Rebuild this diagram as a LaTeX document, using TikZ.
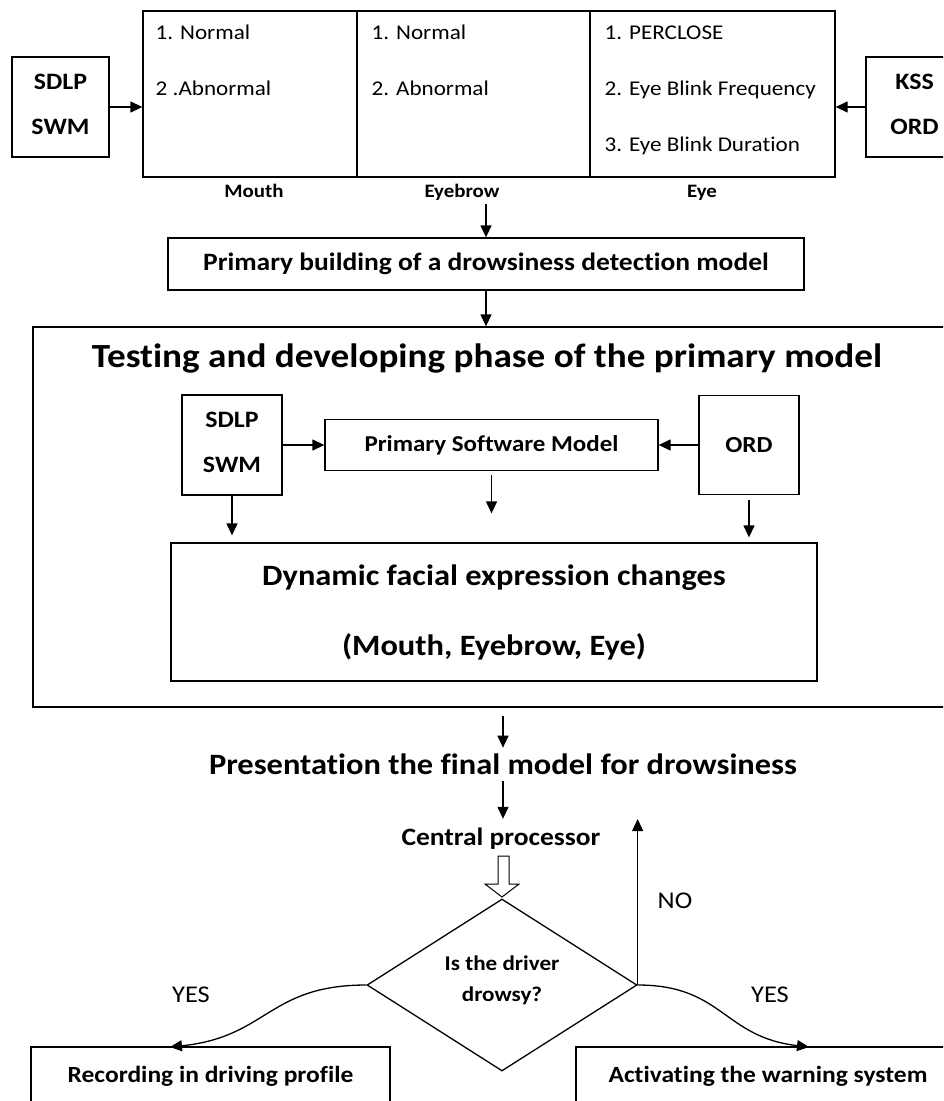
\documentclass[tikz,border=0pt]{standalone}
\usepackage{fontspec}
\setmainfont{Carlito}[FakeStretch=1.1, Ligatures=NoCommon]
\usetikzlibrary{arrows.meta,shapes.geometric}

\newcommand{\fs}[1]{\fontsize{#1}{#1}\selectfont}
\def\lw{1.3pt}

\begin{document}
\begin{tikzpicture}[x=1pt, y=-1pt, line width=\lw,
  >={Triangle[length=12pt,width=11pt]},
  box/.style={draw, inner sep=0pt, align=center},
  twoline/.style={box, minimum width=#1, minimum height=100, text depth=6pt, font=\bfseries\fontsize{23.5}{45}\selectfont},
  word/.style={inner sep=0pt, anchor=base},
  item/.style={inner sep=0pt, anchor=base west, font=\fs{21}}]
\clip (0,0) rectangle (943,1101);
% Inputs on both sides
\node[twoline=97] (inL) at (60.5,107) {SDLP\\SWM};
\node[twoline=97] (inR) at (914.5,107) {KSS\\ORD};
% Table of facial features
\node[box, minimum width=214, minimum height=166] (mouth) at (250,94) {};
\node[box, minimum width=233, minimum height=166] (brow) at (473.5,94) {};
\node[box, minimum width=245, minimum height=166] (eye) at (712.5,94) {};
\foreach \t [count=\i] in {1. Normal, 2 .Abnormal}
  \node[item] (m\i) at (155,{39+56*(\i-1)}) {\t};
\foreach \t [count=\i] in {1. Normal, 2. Abnormal}
  \node[item] (b\i) at (371,{39+56*(\i-1)}) {\t};
\foreach \t [count=\i] in {1. PERCLOSE, 2. Eye Blink Frequency, 3. Eye Blink Duration}
  \node[item] (e\i) at (604,{39+56*(\i-1)}) {\t};
% Column labels
\node[word, font=\bfseries\fs{19}] (lmouth) at (254,197) {Mouth};
\node[word, font=\bfseries\fs{19}] (lbrow) at (462,197) {Eyebrow};
\node[word, font=\bfseries\fs{19}] (leye) at (702,197) {Eye};
\draw[->] (inL.east) -- (inL.east -| mouth.west);
\draw[->] (inR.west) -- (inR.west -| eye.east);
% Primary model
\coordinate (a1) at (486,204);
\node[box, minimum width=636, minimum height=52, font=\bfseries\fs{25}] (build) at (486,264) {Primary building of a drowsiness detection model};
\draw[->] (a1) -- (build.north);
% Testing phase
\node[box, minimum width=922, minimum height=380] (test) at (494,517) {};
\draw[->] (build.south) -- (build.south |- test.north);
\node[word, font=\bfseries\fs{33.8}] (ttl) at (487,367) {Testing and developing phase of the primary model};
\node[twoline=100] (sd2) at (232,445) {SDLP\\SWM};
\node[box, minimum width=333, minimum height=51, font=\bfseries\fs{22.7}] (psm) at (491.5,445) {Primary Software Model};
\node[box, minimum width=100, minimum height=99, font=\bfseries\fs{23}] (ord) at (749,445) {ORD};
\draw[->] (sd2) -- (psm);
\draw[->] (ord) -- (psm);
\node[box, minimum width=646, minimum height=138, font=\bfseries\fontsize{29.5}{70}\selectfont] (dyn) at (494,612) {Dynamic facial expression changes\\(Mouth, Eyebrow, Eye)};
\draw[->, shorten >=7] (sd2.south) -- (sd2.south |- dyn.north);
\draw[->, shorten <=4, shorten >=29] (psm.south) -- (psm.south |- dyn.north);
\draw[->, shorten <=5, shorten >=5] (ord.south) -- (ord.south |- dyn.north);
% Final model
\node[word, font=\bfseries\fs{29.5}] (pres) at (503,774) {Presentation the final model for drowsiness};
\draw[->, shorten <=8, shorten >=5] (test.south -| pres.north) -- (pres.north);
\node[word, font=\bfseries\fs{25}] (cpu) at (501,845) {Central processor};
\draw[->, shorten <=6, shorten >=8] (pres.south) -- (pres.south |- cpu.north);
% Hollow arrow
\draw[line width=1pt] (498,856) -- (509,856) -- (509,884) -- (519,884) -- (502,897) -- (485,884) -- (498,884) -- cycle;
% Decision
\node[draw, diamond, minimum width=270, minimum height=172, inner sep=0pt] (dia) at (502,985) {};
\node[inner sep=0pt, align=center, font=\bfseries\fontsize{21}{31}\selectfont] (qtxt) at (502,980) {Is the driver\\drowsy?};
\coordinate (noend) at (640,819);
\draw[->] (dia.east) -- (dia.east |- noend);
\node[word, font=\fs{24}] (no) at (675,908) {NO};
\node[word, font=\fs{24}] (yesL) at (191,1002) {YES};
\node[word, font=\fs{24}] (yesR) at (770,1002) {YES};
% Outcomes
\node[box, minimum width=359, minimum height=58, font=\bfseries\fs{23.2}] (rec) at (210.5,1076) {Recording in driving profile};
\node[box, minimum width=384, minimum height=58, font=\bfseries\fs{23.2}] (warn) at (768,1076) {Activating the warning system};
\coordinate (tipL) at (170,1047);
\coordinate (tipR) at (809,1047);
\draw[->] (dia.west) .. controls (268,985) and (268,1037) .. (tipL);
\draw[->] (dia.east) .. controls (723,985) and (723,1037) .. (tipR);
\end{tikzpicture}
\end{document}
